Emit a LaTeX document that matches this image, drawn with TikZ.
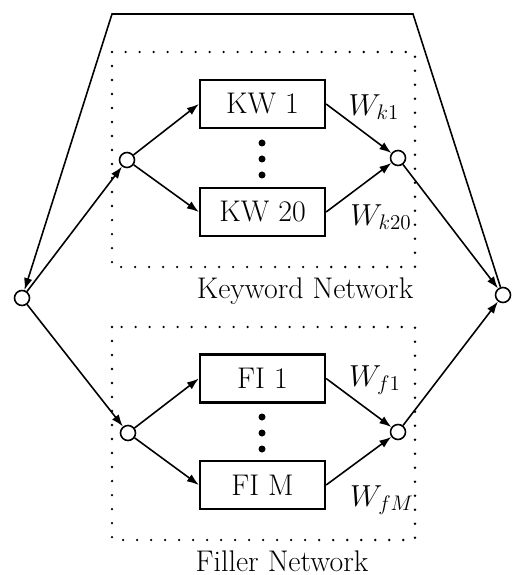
\documentclass[tikz,border=0pt]{standalone}
\usepackage{tikz}
\usetikzlibrary{arrows.meta}

\tikzset{
  junction/.style={circle,draw,line width=0.9pt,fill=white,inner sep=0pt,minimum size=0.3cm},
  netbox/.style={draw,line width=1.3pt,minimum width=2.5cm,minimum height=0.96cm,inner sep=0pt},
  groupbox/.style={line width=1.5pt,dash pattern=on 0pt off 7.97pt,line cap=round},
}

\begin{document}
\begin{tikzpicture}[>={Latex[length=2.4mm,width=1.7mm]},line width=0.9pt,
  font=\fontsize{17}{20}\selectfont]
\useasboundingbox (0,0) rectangle (10.22,-11.5);
% dotted groups
\draw [groupbox] (2.24,-1.04) rectangle (8.30,-5.34);
\draw [groupbox] (2.24,-6.54) rectangle (8.30,-10.80);
\node (kwlabel) at (6.10,-5.82) {Keyword Network};
\node (fillabel) at (5.64,-11.22) {Filler Network};
% junctions
\node [junction] (in) at (0.44,-5.96) {};
\node [junction] (out) at (10.06,-5.90) {};
\node [junction] (kin) at (2.54,-3.20) {};
\node [junction] (kout) at (7.96,-3.16) {};
\node [junction] (fin) at (2.56,-8.66) {};
\node [junction] (fout) at (7.96,-8.64) {};
% networks
\node [netbox] (kw1) at (5.25,-2.08) {KW 1};
\node [netbox] (kw20) at (5.25,-4.24) {KW 20};
\node [netbox] (fi1) at (5.25,-7.57) {FI 1};
\node [netbox] (fim) at (5.25,-9.70) {FI M};
\foreach \y in {-2.86,-3.18,-3.50,-8.34,-8.66,-8.98}
  \fill (5.24,\y) circle (0.07);
% weights
\node (wk1) at (7.48,-2.14) {$W_{k1}$};
\node (wk20) at (7.62,-4.34) {$W_{k20}$};
\node (wf1) at (7.50,-7.60) {$W_{f1}$};
\node (wfm) at (7.64,-10.00) {$W_{fM}$};
% feedback corners
\coordinate (tl) at (2.24,-0.28);
\coordinate (tr) at (8.26,-0.28);
\draw [->] (in) -- (kin);
\draw [->] (in) -- (fin);
\draw [->] (kin) -- (kw1.west);
\draw [->] (kin) -- (kw20.west);
\draw [->] (fin) -- (fi1.west);
\draw [->] (fin) -- (fim.west);
\draw [->] (kw1.east) -- (kout);
\draw [->] (kw20.east) -- (kout);
\draw [->] (fi1.east) -- (fout);
\draw [->] (fim.east) -- (fout);
\draw [->] (kout) -- (out);
\draw [->] (fout) -- (out);
\draw [->,line join=miter] (out) -- (tr) -- (tl) -- (in);
\end{tikzpicture}
\end{document}
